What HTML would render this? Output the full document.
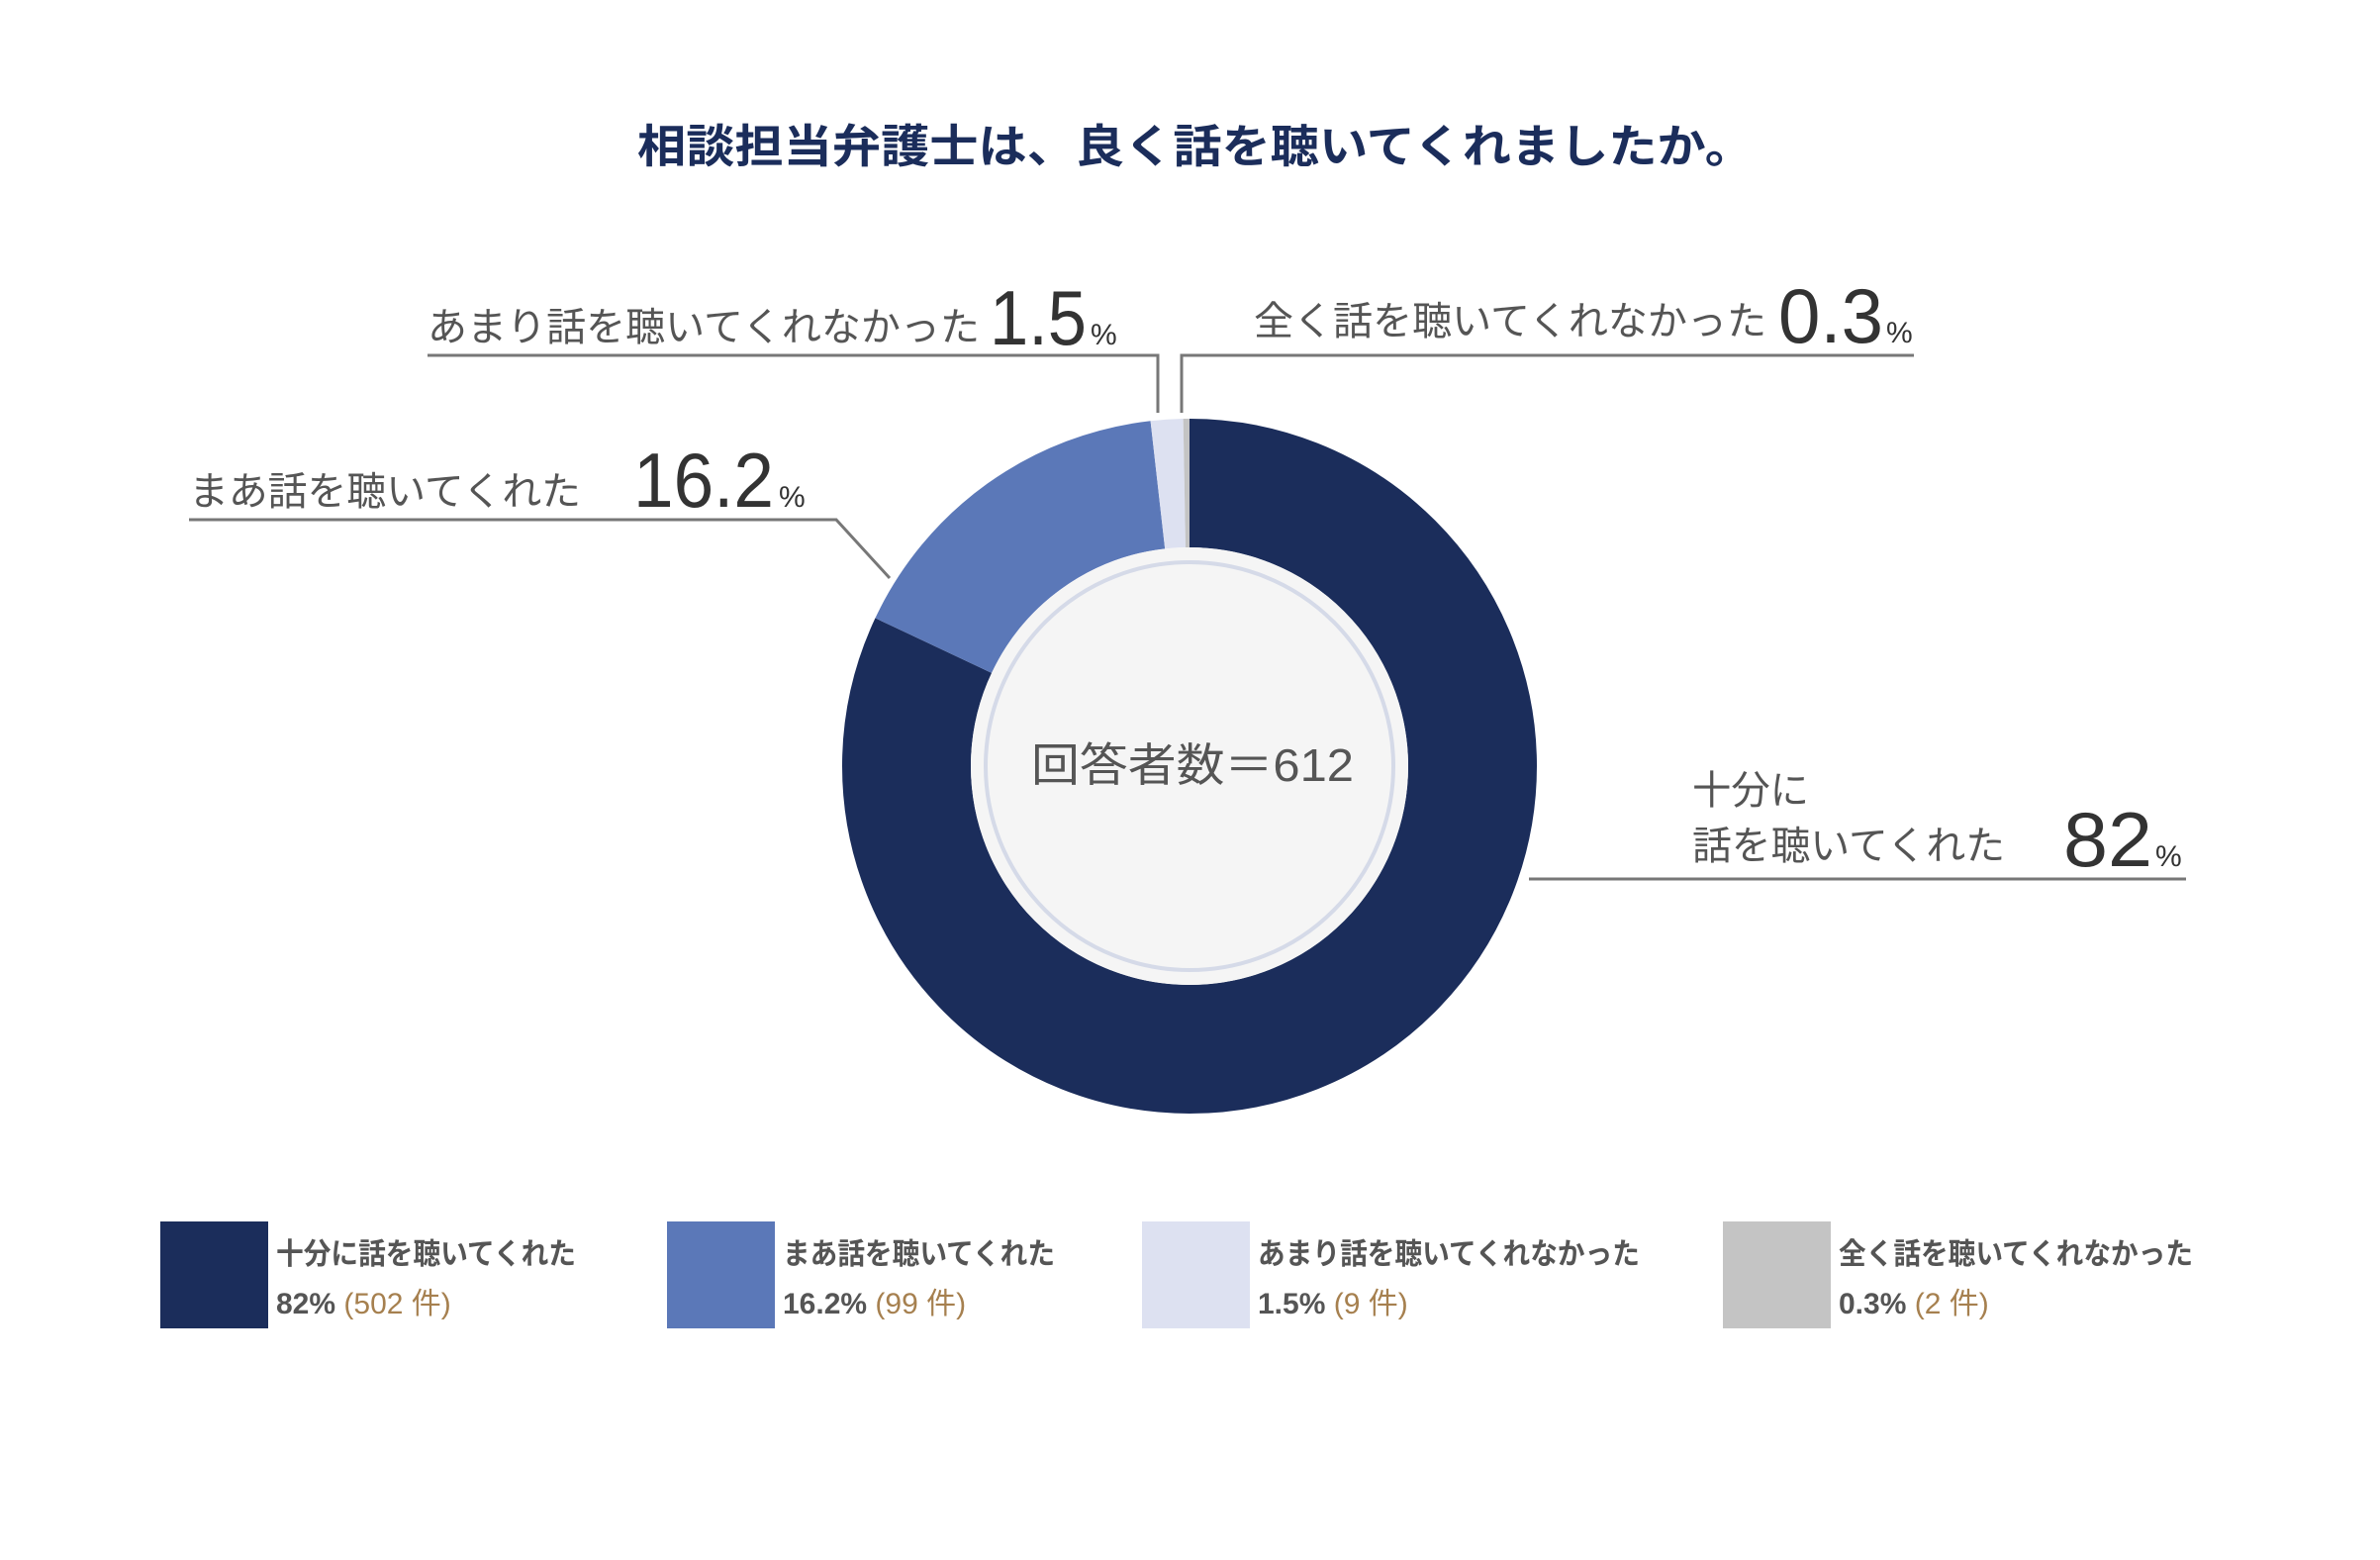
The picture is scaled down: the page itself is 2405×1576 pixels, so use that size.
<!DOCTYPE html>
<html><head><meta charset="utf-8"><style>
html,body{margin:0;padding:0;background:#fff;}
svg{display:block;}
text{font-family:"Liberation Sans","Noto Sans CJK JP",sans-serif;}
</style></head><body>
<svg width="2405" height="1576" viewBox="0 0 2405 1576" xmlns="http://www.w3.org/2000/svg">
<rect width="2405" height="1576" fill="#fff"/>
<text x="1208" y="164" text-anchor="middle" font-size="46" font-weight="bold" fill="#1b2d5b" textLength="1128" lengthAdjust="spacingAndGlyphs">相談担当弁護士は、良く話を聴いてくれましたか。</text>

<g transform="rotate(-90 1202 774)">
<circle cx="1202" cy="774" r="286" fill="none" stroke="#1b2d5b" stroke-width="130" stroke-dasharray="1473.5 1797"/>
<circle cx="1202" cy="774" r="286" fill="none" stroke="#5b78b8" stroke-width="130" stroke-dasharray="0 1473.5 291.1 1797"/>
<circle cx="1202" cy="774" r="286" fill="none" stroke="#dde1f1" stroke-width="130" stroke-dasharray="0 1764.6 27 1797"/>
<circle cx="1202" cy="774" r="286" fill="none" stroke="#c4c4c4" stroke-width="130" stroke-dasharray="0 1791.6 5.4 1797"/>
</g>
<circle cx="1202" cy="774" r="221" fill="#f5f5f5"/>
<circle cx="1202" cy="774" r="206" fill="none" stroke="#d5dae8" stroke-width="4"/>
<text x="1205" y="789" text-anchor="middle" font-size="46" fill="#555" textLength="326" lengthAdjust="spacingAndGlyphs">回答者数＝612</text>

<g fill="none" stroke="#777" stroke-width="3">
<polyline points="432,359 1170,359 1170,417"/>
<polyline points="1934,359 1194,359 1194,417"/>
<polyline points="191,525 845,525 899,584"/>
<polyline points="1545,888 2209,888"/>
</g>

<text x="432" y="344" font-size="40" fill="#555" textLength="558" lengthAdjust="spacingAndGlyphs">あまり話を聴いてくれなかった</text>
<text x="1000" y="348" font-size="78" fill="#333" textLength="98" lengthAdjust="spacingAndGlyphs">1.5</text>
<text x="1102" y="348" font-size="30" fill="#333">%</text>

<text x="1267" y="338" font-size="40" fill="#555" textLength="518" lengthAdjust="spacingAndGlyphs">全く話を聴いてくれなかった</text>
<text x="1797" y="346" font-size="78" fill="#333" textLength="106" lengthAdjust="spacingAndGlyphs">0.3</text>
<text x="1906" y="346" font-size="30" fill="#333">%</text>

<text x="191" y="510" font-size="40" fill="#555" textLength="396" lengthAdjust="spacingAndGlyphs">まあ話を聴いてくれた</text>
<text x="640" y="512" font-size="78" fill="#333" textLength="142" lengthAdjust="spacingAndGlyphs">16.2</text>
<text x="787" y="512" font-size="30" fill="#333">%</text>

<text x="1710" y="812" font-size="40" fill="#555" textLength="118" lengthAdjust="spacingAndGlyphs">十分に</text>
<text x="1710" y="868" font-size="40" fill="#555" textLength="316" lengthAdjust="spacingAndGlyphs">話を聴いてくれた</text>
<text x="2085" y="875" font-size="78" fill="#333" textLength="90" lengthAdjust="spacingAndGlyphs">82</text>
<text x="2178" y="875" font-size="30" fill="#333">%</text>

<rect x="162" y="1234" width="109" height="108" fill="#1b2d5b"/>
<rect x="674" y="1234" width="109" height="108" fill="#5b78b8"/>
<rect x="1154" y="1234" width="109" height="108" fill="#dde1f1"/>
<rect x="1741" y="1234" width="109" height="108" fill="#c4c4c4"/>
<g font-size="30" fill="#555" font-weight="bold">
<text x="279" y="1277" textLength="303" lengthAdjust="spacingAndGlyphs">十分に話を聴いてくれた</text>
<text x="279" y="1327">82% <tspan fill="#a6804f" font-weight="normal">(502 件)</tspan></text>
<text x="791" y="1277" textLength="275" lengthAdjust="spacingAndGlyphs">まあ話を聴いてくれた</text>
<text x="791" y="1327">16.2% <tspan fill="#a6804f" font-weight="normal">(99 件)</tspan></text>
<text x="1271" y="1277" textLength="386" lengthAdjust="spacingAndGlyphs">あまり話を聴いてくれなかった</text>
<text x="1271" y="1327">1.5% <tspan fill="#a6804f" font-weight="normal">(9 件)</tspan></text>
<text x="1858" y="1277" textLength="358" lengthAdjust="spacingAndGlyphs">全く話を聴いてくれなかった</text>
<text x="1858" y="1327">0.3% <tspan fill="#a6804f" font-weight="normal">(2 件)</tspan></text>
</g>
</svg>
</body></html>
